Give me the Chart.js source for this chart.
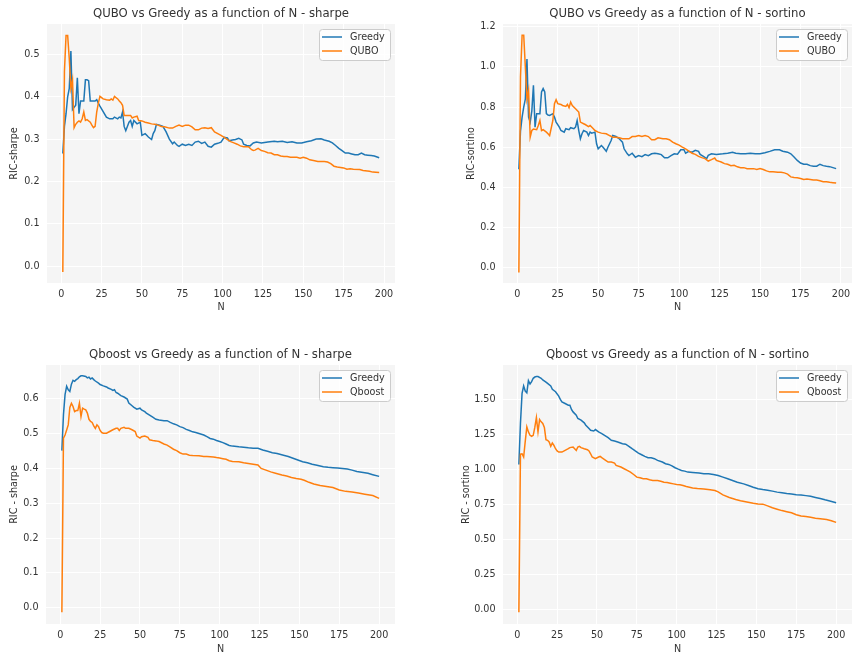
<!DOCTYPE html>
<html>
<head>
<meta charset="utf-8">
<title>RIC as a function of N</title>
<script src="https://cdn.jsdelivr.net/npm/chart.js@4.4.0/dist/chart.umd.min.js"></script>
<style>
  body { margin: 0; background: #ffffff; }
  #wrap { position: relative; width: 853px; height: 659px; }
  #wrap canvas { position: absolute; }
</style>
</head>
<body>
<div id="wrap">
  <canvas id="quboSharpe" width="420" height="330" style="left:0;top:0"></canvas>
  <canvas id="quboSortino" width="433" height="330" style="left:420px;top:0"></canvas>
  <canvas id="qboostSharpe" width="420" height="329" style="left:0;top:330px"></canvas>
  <canvas id="qboostSortino" width="433" height="329" style="left:420px;top:330px"></canvas>
</div>
<script>
// --- QUBO vs Greedy, sharpe ---
const sharpeGreedyN = [1, 2, 3, 4, 5, 6, 7, 8, 9, 10,
  11, 12, 13, 14, 15, 16, 17, 18, 19, 20,
  21, 22, 23, 24, 26, 28, 30, 32, 33, 35,
  36, 37, 38, 39, 40, 42, 43, 44, 45, 47,
  49, 50, 52, 53, 54, 56, 57, 58, 59, 61,
  63, 65, 67, 69, 70, 72, 73, 75, 77, 79,
  81, 83, 85, 87, 89, 91, 93, 95, 97, 99,
  101, 103, 104, 106, 108, 110, 112, 113, 115, 117,
  119, 121, 124, 128, 132, 134, 137, 140, 143, 146,
  149, 152, 155, 158, 161, 163, 166, 168, 170, 172,
  174, 176, 178, 180, 182, 184, 186, 188, 190, 192,
  194, 197];
const sharpeGreedy = [0.266, 0.33, 0.36, 0.40, 0.42, 0.508, 0.37, 0.375, 0.38, 0.445,
  0.36, 0.39, 0.39, 0.39, 0.44, 0.44, 0.438, 0.39, 0.39, 0.39,
  0.39, 0.393, 0.385, 0.378, 0.365, 0.352, 0.348, 0.348, 0.352, 0.348,
  0.352, 0.35, 0.364, 0.33, 0.32, 0.34, 0.344, 0.33, 0.344, 0.336,
  0.34, 0.309, 0.313, 0.309, 0.305, 0.299, 0.313, 0.32, 0.335, 0.333,
  0.33, 0.317, 0.30, 0.289, 0.293, 0.285, 0.283, 0.288, 0.285, 0.288,
  0.285, 0.293, 0.295, 0.29, 0.293, 0.283, 0.281, 0.288, 0.29, 0.293,
  0.304, 0.303, 0.296, 0.298, 0.299, 0.302, 0.298, 0.288, 0.285, 0.284,
  0.291, 0.293, 0.291, 0.293, 0.295, 0.294, 0.295, 0.292, 0.294, 0.291,
  0.291, 0.294, 0.296, 0.30, 0.301, 0.298, 0.295, 0.291, 0.285, 0.278,
  0.273, 0.267, 0.267, 0.265, 0.263, 0.263, 0.267, 0.263, 0.262, 0.261,
  0.26, 0.256];
const sharpeQuboN = [1, 2, 3, 4, 5, 6, 7, 8, 9, 10,
  11, 12, 13, 14, 15, 16, 18, 19, 20, 21,
  22, 23, 24, 25, 26, 28, 30, 31, 32, 33,
  35, 36, 37, 38, 39, 41, 43, 44, 45, 47,
  48, 50, 52, 54, 56, 58, 60, 62, 64, 67,
  69, 71, 73, 75, 77, 79, 81, 83, 85, 87,
  89, 91, 93, 95, 97, 99, 101, 103, 105, 107,
  109, 111, 113, 116, 118, 119, 120, 122, 124, 126,
  128, 130, 132, 134, 136, 138, 140, 142, 144, 146,
  148, 150, 152, 154, 157, 159, 163, 165, 167, 169,
  171, 175, 177, 179, 181, 185, 187, 191, 193, 197];
const sharpeQubo = [-0.014, 0.46, 0.545, 0.545, 0.49, 0.42, 0.44, 0.327, 0.335, 0.34,
  0.343, 0.34, 0.348, 0.364, 0.344, 0.346, 0.34, 0.333, 0.327, 0.33,
  0.364, 0.385, 0.401, 0.398, 0.395, 0.393, 0.392, 0.395, 0.392, 0.401,
  0.395, 0.39, 0.386, 0.38, 0.356, 0.356, 0.356, 0.35, 0.352, 0.354,
  0.344, 0.343, 0.34, 0.338, 0.336, 0.335, 0.333, 0.33, 0.329, 0.326,
  0.326, 0.33, 0.333, 0.33, 0.333, 0.333, 0.329, 0.322, 0.322, 0.326,
  0.327, 0.325, 0.327, 0.317, 0.313, 0.309, 0.304, 0.299, 0.294, 0.291,
  0.288, 0.284, 0.282, 0.282, 0.275, 0.273, 0.274, 0.278, 0.273, 0.271,
  0.268, 0.267, 0.263, 0.263, 0.26, 0.259, 0.259, 0.257, 0.257, 0.257,
  0.255, 0.257, 0.255, 0.251, 0.249, 0.247, 0.247, 0.246, 0.242, 0.236,
  0.234, 0.232, 0.229, 0.23, 0.229, 0.228, 0.226, 0.224, 0.222, 0.221];

// --- QUBO vs Greedy, sortino ---
const sortinoGreedyN = [1, 2, 3, 4, 5, 6, 7, 8, 9, 10,
  11, 12, 13, 14, 15, 16, 17, 18, 19, 20,
  22, 23, 24, 26, 27, 29, 30, 32, 33, 35,
  36, 37, 38, 39, 40, 41, 43, 44, 45, 46,
  48, 49, 50, 52, 53, 55, 56, 58, 59, 61,
  63, 65, 66, 68, 69, 71, 73, 75, 77, 79,
  81, 83, 85, 87, 89, 91, 93, 95, 97, 99,
  101, 103, 104, 106, 108, 110, 112, 113, 115, 117,
  118, 120, 123, 127, 130, 133, 135, 138, 141, 144,
  147, 150, 153, 156, 159, 162, 164, 167, 169, 171,
  173, 175, 177, 179, 181, 183, 185, 187, 189, 191,
  193, 195, 197];
const sortinoGreedy = [0.49, 0.68, 0.75, 0.80, 0.84, 1.04, 0.75, 0.725, 0.78, 0.908,
  0.70, 0.767, 0.767, 0.767, 0.875, 0.892, 0.875, 0.767, 0.76, 0.758,
  0.767, 0.75, 0.725, 0.70, 0.683, 0.675, 0.692, 0.687, 0.697, 0.692,
  0.70, 0.733, 0.683, 0.642, 0.667, 0.683, 0.675, 0.658, 0.675, 0.67,
  0.675, 0.617, 0.592, 0.608, 0.60, 0.58, 0.60, 0.633, 0.658, 0.653,
  0.642, 0.625, 0.592, 0.567, 0.558, 0.57, 0.55, 0.558, 0.553, 0.563,
  0.558, 0.567, 0.57, 0.567, 0.563, 0.547, 0.547, 0.558, 0.567, 0.565,
  0.587, 0.587, 0.57, 0.579, 0.575, 0.584, 0.579, 0.564, 0.554, 0.543,
  0.559, 0.567, 0.564, 0.567, 0.57, 0.575, 0.57, 0.567, 0.567, 0.57,
  0.567, 0.567, 0.572, 0.579, 0.587, 0.587, 0.58, 0.575, 0.567, 0.551,
  0.534, 0.521, 0.515, 0.515, 0.508, 0.505, 0.505, 0.515, 0.508, 0.505,
  0.503, 0.498, 0.493];
const sortinoQuboN = [1, 2, 3, 4, 5, 6, 7, 8, 9, 10,
  12, 13, 14, 15, 16, 18, 19, 20, 22, 23,
  24, 25, 27, 28, 30, 31, 32, 33, 34, 36,
  38, 39, 41, 42, 44, 45, 47, 48, 50, 52,
  55, 57, 59, 61, 63, 65, 69, 71, 73, 75,
  77, 79, 81, 83, 85, 87, 90, 92, 94, 96,
  98, 100, 102, 104, 106, 108, 110, 112, 114, 116,
  118, 120, 122, 123, 126, 128, 130, 132, 134, 136,
  138, 140, 142, 146, 148, 150, 152, 154, 156, 158,
  161, 163, 165, 167, 169, 171, 173, 175, 177, 179,
  181, 183, 185, 187, 189, 191, 193, 195, 197];
const sortinoQubo = [-0.025, 0.95, 1.158, 1.158, 1.0, 0.84, 0.883, 0.65, 0.683, 0.69,
  0.687, 0.708, 0.733, 0.683, 0.687, 0.675, 0.667, 0.658, 0.733, 0.817,
  0.837, 0.817, 0.813, 0.808, 0.803, 0.813, 0.797, 0.825, 0.808, 0.792,
  0.775, 0.725, 0.717, 0.713, 0.703, 0.708, 0.692, 0.683, 0.675, 0.67,
  0.667, 0.658, 0.65, 0.65, 0.647, 0.642, 0.642, 0.653, 0.653, 0.658,
  0.653, 0.658, 0.653, 0.637, 0.637, 0.647, 0.642, 0.642, 0.637, 0.625,
  0.617, 0.61, 0.6, 0.592, 0.58, 0.57, 0.564, 0.554, 0.548, 0.543,
  0.531, 0.538, 0.546, 0.534, 0.526, 0.518, 0.515, 0.508, 0.51, 0.502,
  0.498, 0.498, 0.493, 0.493, 0.489, 0.493, 0.489, 0.482, 0.477, 0.477,
  0.475, 0.475, 0.472, 0.466, 0.452, 0.449, 0.448, 0.444, 0.439, 0.441,
  0.439, 0.436, 0.436, 0.433, 0.428, 0.428, 0.425, 0.423, 0.421];

// --- Qboost vs Greedy, sharpe ---
const qbSharpeGreedyN = [1, 2, 3, 4, 5, 6, 7, 8, 9, 10,
  11, 12, 13, 14, 16, 17, 18, 19, 20, 21,
  22, 24, 25, 27, 29, 30, 32, 33, 34, 35,
  36, 38, 40, 42, 43, 45, 46, 48, 50, 51,
  53, 54, 56, 58, 60, 62, 65, 67, 69, 71,
  73, 75, 77, 79, 81, 83, 85, 88, 90, 92,
  94, 96, 98, 100, 102, 104, 106, 108, 112, 115,
  118, 121, 124, 127, 130, 133, 136, 140, 143, 146,
  149, 152, 155, 158, 161, 165, 168, 171, 174, 177,
  180, 183, 186, 190, 193, 196, 200];
const qbSharpeGreedy = [0.451, 0.554, 0.612, 0.636, 0.626, 0.621, 0.642, 0.653, 0.65, 0.655,
  0.658, 0.663, 0.666, 0.666, 0.664, 0.66, 0.662, 0.657, 0.66, 0.655,
  0.651, 0.645, 0.641, 0.637, 0.634, 0.631, 0.627, 0.624, 0.626, 0.618,
  0.616, 0.609, 0.605, 0.599, 0.588, 0.58, 0.576, 0.57, 0.573, 0.568,
  0.563, 0.559, 0.553, 0.547, 0.541, 0.539, 0.537, 0.537, 0.532, 0.528,
  0.525, 0.52, 0.517, 0.512, 0.509, 0.505, 0.503, 0.499, 0.496, 0.491,
  0.486, 0.484, 0.48, 0.477, 0.474, 0.47, 0.466, 0.464, 0.462, 0.461,
  0.459, 0.458, 0.458, 0.453, 0.449, 0.445, 0.443, 0.438, 0.434, 0.429,
  0.424, 0.419, 0.416, 0.412, 0.409, 0.405, 0.403, 0.402, 0.401, 0.40,
  0.398, 0.395, 0.391, 0.388, 0.386, 0.382, 0.377];
const qbSharpeQboostN = [1, 2, 3, 4, 5, 6, 7, 8, 9, 10,
  11, 12, 13, 14, 15, 16, 17, 18, 19, 20,
  21, 22, 23, 24, 25, 26, 27, 29, 31, 33,
  35, 36, 37, 38, 40, 41, 43, 45, 47, 48,
  50, 51, 53, 55, 56, 58, 60, 62, 65, 67,
  69, 71, 73, 75, 77, 79, 81, 83, 87, 90,
  92, 96, 98, 100, 102, 104, 106, 108, 112, 115,
  118, 121, 124, 126, 129, 132, 135, 139, 142, 145,
  148, 151, 153, 156, 159, 163, 167, 171, 175, 179,
  183, 187, 191, 196, 200];
const qbSharpeQboost = [-0.013, 0.487, 0.496, 0.51, 0.525, 0.575, 0.587, 0.578, 0.563, 0.566,
  0.566, 0.587, 0.549, 0.573, 0.57, 0.568, 0.559, 0.541, 0.535, 0.532,
  0.522, 0.515, 0.525, 0.52, 0.509, 0.503, 0.501, 0.501, 0.506, 0.511,
  0.515, 0.515, 0.509, 0.515, 0.518, 0.515, 0.515, 0.511, 0.506, 0.493,
  0.487, 0.491, 0.493, 0.489, 0.482, 0.48, 0.479, 0.477, 0.47, 0.467,
  0.461, 0.455, 0.451, 0.445, 0.441, 0.441, 0.438, 0.437, 0.436, 0.434,
  0.434, 0.433, 0.431, 0.43, 0.428, 0.426, 0.422, 0.42, 0.419, 0.416,
  0.414, 0.412, 0.41, 0.40, 0.395, 0.39, 0.386, 0.381, 0.378, 0.374,
  0.371, 0.369, 0.366, 0.36, 0.355, 0.351, 0.348, 0.345, 0.338, 0.334,
  0.332, 0.329, 0.326, 0.322, 0.314];

// --- Qboost vs Greedy, sortino ---
const qbSortinoGreedyN = [1, 2, 3, 4, 5, 6, 7, 8, 9, 10,
  11, 12, 13, 15, 16, 18, 19, 21, 22, 24,
  26, 27, 28, 30, 32, 33, 34, 35, 37, 38,
  40, 42, 43, 45, 46, 48, 49, 51, 53, 55,
  57, 59, 61, 63, 66, 68, 70, 72, 74, 76,
  78, 80, 82, 84, 86, 88, 91, 93, 95, 97,
  99, 101, 103, 105, 107, 110, 114, 117, 120, 123,
  126, 129, 132, 135, 138, 142, 145, 148, 151, 154,
  157, 160, 163, 166, 169, 172, 175, 178, 181, 184,
  187, 190, 193, 196, 200];
const qbSortinoGreedy = [1.035, 1.33, 1.543, 1.596, 1.56, 1.548, 1.634, 1.61, 1.627, 1.651,
  1.66, 1.663, 1.663, 1.651, 1.639, 1.624, 1.615, 1.596, 1.572, 1.555,
  1.524, 1.5, 1.483, 1.471, 1.459, 1.459, 1.428, 1.411, 1.388, 1.364,
  1.352, 1.333, 1.316, 1.292, 1.28, 1.275, 1.285, 1.268, 1.256, 1.242,
  1.227, 1.208, 1.203, 1.196, 1.184, 1.18, 1.165, 1.148, 1.132, 1.117,
  1.105, 1.093, 1.084, 1.084, 1.077, 1.065, 1.053, 1.041, 1.036, 1.026,
  1.012, 1.002, 0.993, 0.988, 0.981, 0.978, 0.974, 0.969, 0.969, 0.964,
  0.957, 0.945, 0.933, 0.921, 0.909, 0.897, 0.885, 0.873, 0.862, 0.856,
  0.852, 0.845, 0.838, 0.833, 0.828, 0.824, 0.82, 0.817, 0.813, 0.808,
  0.80, 0.792, 0.783, 0.775, 0.762];
const qbSortinoQboostN = [1, 2, 3, 4, 5, 6, 7, 8, 9, 10,
  11, 12, 13, 14, 15, 16, 17, 18, 19, 20,
  21, 22, 23, 24, 25, 26, 28, 30, 32, 33,
  35, 36, 37, 38, 39, 40, 42, 44, 45, 46,
  47, 49, 51, 52, 53, 55, 57, 59, 61, 62,
  65, 67, 69, 71, 73, 75, 77, 79, 81, 83,
  85, 88, 90, 92, 94, 96, 98, 100, 102, 104,
  106, 108, 110, 113, 117, 121, 124, 126, 129, 133,
  137, 140, 144, 148, 151, 154, 157, 160, 163, 166,
  169, 172, 175, 178, 181, 184, 187, 190, 194, 197,
  200];
const qbSortinoQboost = [-0.02, 1.11, 1.112, 1.089, 1.2, 1.304, 1.268, 1.244, 1.237, 1.244,
  1.30, 1.37, 1.268, 1.356, 1.34, 1.328, 1.30, 1.213, 1.208, 1.196,
  1.165, 1.189, 1.172, 1.148, 1.132, 1.124, 1.124, 1.136, 1.148, 1.156,
  1.16, 1.148, 1.136, 1.16, 1.165, 1.156, 1.148, 1.141, 1.132, 1.112,
  1.089, 1.077, 1.089, 1.093, 1.084, 1.069, 1.053, 1.053, 1.045, 1.029,
  1.017, 1.005, 0.993, 0.981, 0.964, 0.945, 0.94, 0.933, 0.933, 0.926,
  0.921, 0.921, 0.916, 0.909, 0.907, 0.902, 0.897, 0.892, 0.89, 0.885,
  0.878, 0.873, 0.868, 0.864, 0.861, 0.855, 0.849, 0.84, 0.818, 0.80,
  0.785, 0.777, 0.768, 0.758, 0.754, 0.752, 0.74, 0.726, 0.716, 0.706,
  0.698, 0.69, 0.677, 0.668, 0.664, 0.658, 0.652, 0.648, 0.643, 0.634,
  0.622];

// tick positions
const nTicks = [0, 25, 50, 75, 100, 125, 150, 175, 200];
const sharpeTicksTop = [0.0, 0.1, 0.2, 0.3, 0.4, 0.5];
const sortinoTicksTop = [0.0, 0.2, 0.4, 0.6, 0.8, 1.0, 1.2];
const sharpeTicksBottom = [0.0, 0.1, 0.2, 0.3, 0.4, 0.5, 0.6];
const sortinoTicksBottom = [0.0, 0.25, 0.5, 0.75, 1.0, 1.25, 1.5];

const BLUE = '#1f77b4';
const ORANGE = '#ff7f0e';
const TEXT = '#333333';
const FAMILY = '"DejaVu Sans", sans-serif';

Chart.defaults.font.family = FAMILY;
Chart.defaults.color = TEXT;

// grey panel behind the grid
const panelBackground = {
  id: 'panelBackground',
  beforeDraw(chart) {
    const a = chart.chartArea;
    const ctx = chart.ctx;
    ctx.save();
    ctx.fillStyle = '#f5f5f5';
    ctx.fillRect(a.left, a.top, a.right - a.left, a.bottom - a.top);
    ctx.restore();
  }
};

// title centred over the plot area
const panelTitle = {
  id: 'panelTitle',
  afterDraw(chart, args, opts) {
    const a = chart.chartArea;
    const ctx = chart.ctx;
    ctx.save();
    ctx.font = '11.7px ' + FAMILY;
    ctx.fillStyle = TEXT;
    ctx.textAlign = 'center';
    ctx.textBaseline = 'middle';
    ctx.fillText(opts.text, (a.left + a.right) / 2, a.top - 10);
    ctx.restore();
  }
};

// framed legend in the upper right corner of the plot
const boxLegend = {
  id: 'boxLegend',
  afterDraw(chart) {
    const a = chart.chartArea;
    const ctx = chart.ctx;
    const sets = chart.data.datasets;
    ctx.save();
    ctx.font = '9.6px ' + FAMILY;
    const textW = Math.max(...sets.map(d => ctx.measureText(d.label).width));
    const w = Math.round(3 + 20 + 8 + textW + 5);
    const h = 31;
    const x = Math.round(a.right - 5 - w);
    const y = Math.round(a.top + 5);
    ctx.beginPath();
    ctx.roundRect(x + 0.5, y + 0.5, w, h, 3);
    ctx.fillStyle = 'rgba(255,255,255,0.8)';
    ctx.fill();
    ctx.strokeStyle = '#cccccc';
    ctx.lineWidth = 1;
    ctx.stroke();
    sets.forEach(function(d, i) {
      const cy = y + 8 + i * 14;
      ctx.strokeStyle = d.borderColor;
      ctx.lineWidth = 1.5;
      ctx.beginPath();
      ctx.moveTo(x + 3, cy);
      ctx.lineTo(x + 23, cy);
      ctx.stroke();
      ctx.fillStyle = TEXT;
      ctx.textBaseline = 'middle';
      ctx.fillText(d.label, x + 31, cy);
    });
    ctx.restore();
  }
};

function points(ns, vals) {
  return ns.map(function(n, i) { return { x: n, y: vals[i] }; });
}

function makePanel(id, cfg) {
  const tickFont = { family: FAMILY, size: 9.6 };
  return new Chart(document.getElementById(id), {
    type: 'line',
    data: {
      datasets: [{
        label: 'Greedy',
        data: points(cfg.greedyN, cfg.greedy),
        borderColor: BLUE,
        borderWidth: 1.5,
        pointRadius: 0,
        tension: 0,
        fill: false,
        order: 1
      }, {
        label: cfg.otherLabel,
        data: points(cfg.otherN, cfg.other),
        borderColor: ORANGE,
        borderWidth: 1.5,
        pointRadius: 0,
        tension: 0,
        fill: false,
        order: 0
      }]
    },
    options: {
      responsive: false,
      animation: false,
      devicePixelRatio: 1,
      layout: { padding: cfg.padding },
      plugins: {
        legend: { display: false },
        tooltip: { enabled: false },
        panelTitle: { text: cfg.title }
      },
      scales: {
        x: {
          type: 'linear',
          min: cfg.xMin,
          max: cfg.xMax,
          afterBuildTicks: function(s) { s.ticks = nTicks.map(v => ({ value: v })); },
          afterFit: function(s) { s.height = 35; s.paddingLeft = 0; s.paddingRight = 0; },
          grid: { color: '#ffffff', lineWidth: 1, drawTicks: false },
          border: { display: false },
          ticks: { padding: 6, color: TEXT, font: tickFont, autoSkip: false, maxRotation: 0,
            callback: v => String(v) },
          title: { display: true, text: 'N', color: TEXT, font: tickFont,
            padding: { top: 0, bottom: cfg.xTitlePad } }
        },
        y: {
          type: 'linear',
          min: cfg.yMin,
          max: cfg.yMax,
          afterBuildTicks: function(s) { s.ticks = cfg.yTicks.map(v => ({ value: v })); },
          afterFit: function(s) { s.width = cfg.yWidth; s.paddingTop = 0; s.paddingBottom = 0; },
          grid: { color: '#ffffff', lineWidth: 1, drawTicks: false },
          border: { display: false },
          ticks: { padding: 7.5, color: TEXT, font: tickFont, autoSkip: false,
            callback: v => v.toFixed(cfg.yDigits) },
          title: { display: true, text: cfg.yLabel, color: TEXT, font: tickFont,
            padding: { top: cfg.yTitlePad, bottom: 0 } }
        }
      }
    },
    plugins: [panelBackground, panelTitle, boxLegend]
  });
}

document.addEventListener('DOMContentLoaded', function() {
  makePanel('quboSharpe', {
    title: 'QUBO vs Greedy as a function of N - sharpe',
    yLabel: 'RIC-sharpe', otherLabel: 'QUBO',
    greedyN: sharpeGreedyN, greedy: sharpeGreedy,
    otherN: sharpeQuboN, other: sharpeQubo,
    xMin: -8.8, xMax: 206.8, yMin: -0.04, yMax: 0.572,
    yTicks: sharpeTicksTop, yDigits: 1, yWidth: 47, yTitlePad: 8.8, xTitlePad: 4.3,
    padding: { left: 0, right: 25, top: 24, bottom: 12 }
  });
  makePanel('quboSortino', {
    title: 'QUBO vs Greedy as a function of N - sortino',
    yLabel: 'RIC-sortino', otherLabel: 'QUBO',
    greedyN: sortinoGreedyN, greedy: sortinoGreedy,
    otherN: sortinoQuboN, other: sortinoQubo,
    xMin: -8.8, xMax: 206.8, yMin: -0.077, yMax: 1.214,
    yTicks: sortinoTicksTop, yDigits: 1, yWidth: 83, yTitlePad: 46.1, xTitlePad: 4.3,
    padding: { left: 0, right: 1, top: 24, bottom: 12 }
  });
  makePanel('qboostSharpe', {
    title: 'Qboost vs Greedy as a function of N - sharpe',
    yLabel: 'RIC - sharpe', otherLabel: 'Qboost',
    greedyN: qbSharpeGreedyN, greedy: qbSharpeGreedy,
    otherN: qbSharpeQboostN, other: qbSharpeQboost,
    xMin: -8.95, xMax: 209.95, yMin: -0.047, yMax: 0.697,
    yTicks: sharpeTicksBottom, yDigits: 1, yWidth: 46, yTitlePad: 8.8, xTitlePad: 4,
    padding: { left: 0, right: 25, top: 35, bottom: 0 }
  });
  makePanel('qboostSortino', {
    title: 'Qboost vs Greedy as a function of N - sortino',
    yLabel: 'RIC - sortino', otherLabel: 'Qboost',
    greedyN: qbSortinoGreedyN, greedy: qbSortinoGreedy,
    otherN: qbSortinoQboostN, other: qbSortinoQboost,
    xMin: -8.95, xMax: 209.95, yMin: -0.104, yMax: 1.746,
    yTicks: sortinoTicksBottom, yDigits: 2, yWidth: 83, yTitlePad: 40.5, xTitlePad: 4,
    padding: { left: 0, right: 1, top: 35, bottom: 0 }
  });
});
</script>
</body>
</html>
